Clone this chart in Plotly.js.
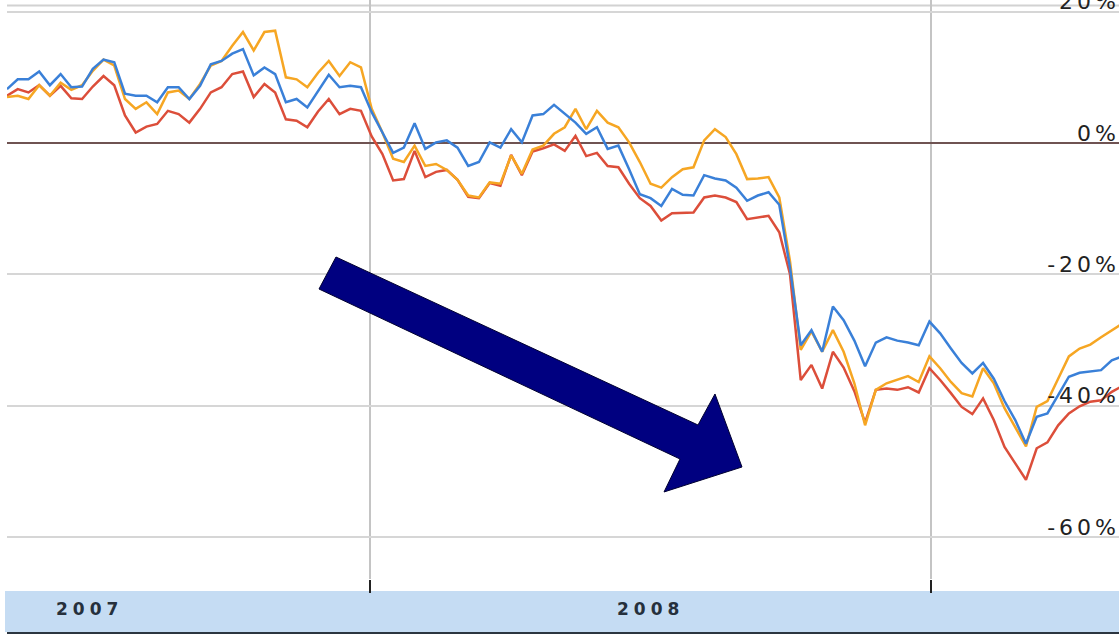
<!DOCTYPE html>
<html>
<head>
<meta charset="utf-8">
<script src="https://cdn.plot.ly/plotly-3.0.1.min.js"></script>
<style>
  html, body { margin: 0; padding: 0; background: #ffffff; }
  #chart { width: 1119px; height: 634px; }
  .ytick text { letter-spacing: 4px; }
  .annotation-text { letter-spacing: 5px; }
</style>
</head>
<body>
<div id="chart"></div>
<script>
// Weekly % change series, first week 2007-05-09
const startDate = '2007-05-09';
const blue = [8.2, 9.7, 9.7, 10.9, 8.8, 10.5, 8.5, 8.6, 11.3, 12.7, 12.3, 7.5, 7.2, 7.2, 6.2, 8.5, 8.5, 6.7, 8.7, 12.0,
  12.5, 13.6, 14.3, 10.3, 11.5, 10.5, 6.2, 6.7, 5.4, 8.0, 10.4, 8.5, 8.7, 8.5, 4.7, 1.6, -1.5, -0.7, 3.0, -0.9,
  0.1, 0.4, -0.7, -3.5, -2.9, 0.1, -0.7, 2.1, 0.1, 4.2, 4.4, 5.8, 4.4, 3.1, 1.4, 2.4, -0.9, -0.4, -4.0, -7.8,
  -8.4, -9.6, -7.0, -7.9, -8.0, -4.9, -5.4, -5.7, -6.8, -8.8, -8.0, -7.5, -9.4, -19.0, -30.8, -28.5, -31.8, -24.9, -27.0, -30.1,
  -34.0, -30.4, -29.6, -30.1, -30.4, -30.8, -27.2, -29.0, -31.3, -33.5, -35.1, -33.5, -35.9, -39.3, -42.2, -45.8, -41.7, -41.2, -38.4, -35.6,
  -35.0, -34.8, -34.6, -33.1, -32.5];
const orange = [7.0, 7.2, 6.7, 8.8, 7.2, 9.2, 8.1, 8.8, 11.0, 12.7, 11.8, 6.7, 5.2, 6.2, 4.4, 7.7, 8.0, 6.7, 9.0, 11.8,
  12.5, 14.8, 16.9, 14.1, 16.9, 17.1, 10.0, 9.7, 8.5, 10.7, 12.5, 10.2, 12.3, 11.5, 5.2, 1.6, -2.4, -2.9, -0.4, -3.5,
  -3.2, -4.1, -5.6, -8.0, -8.3, -6.0, -6.2, -1.9, -4.7, -1.0, -0.4, 1.4, 2.4, 5.2, 2.1, 4.9, 3.1, 2.4, 0.1, -2.9,
  -6.2, -6.8, -5.2, -4.0, -3.7, 0.4, 2.1, 0.9, -1.7, -5.5, -5.4, -5.2, -8.3, -18.0, -31.5, -28.7, -31.8, -28.5, -31.8, -36.6,
  -43.0, -37.6, -36.6, -36.1, -35.5, -36.4, -32.5, -34.3, -36.4, -38.1, -38.6, -34.3, -36.6, -40.4, -43.2, -46.2, -40.2, -39.3, -35.9, -32.5,
  -31.3, -30.7, -29.6, -28.5, -27.5];
const red = [7.2, 8.2, 7.7, 8.8, 7.2, 8.7, 6.8, 6.7, 8.6, 10.2, 8.8, 4.2, 1.6, 2.5, 2.9, 4.9, 4.4, 3.1, 5.2, 7.7,
  8.5, 10.5, 10.9, 7.0, 9.0, 7.7, 3.6, 3.4, 2.4, 4.8, 6.7, 4.4, 5.2, 4.9, 1.0, -1.7, -5.7, -5.5, -1.2, -5.2,
  -4.4, -4.1, -5.6, -8.2, -8.4, -6.1, -6.5, -1.8, -4.9, -1.3, -0.8, -0.2, -1.2, 1.1, -2.0, -1.5, -3.5, -3.7, -6.2, -8.4,
  -9.6, -11.8, -10.7, -10.6, -10.6, -8.3, -8.0, -8.3, -9.0, -11.6, -11.3, -11.1, -13.6, -20.0, -36.1, -33.8, -37.4, -31.8, -34.2, -37.8,
  -42.6, -37.6, -37.4, -37.6, -37.2, -38.0, -34.3, -36.1, -38.1, -40.2, -41.3, -38.9, -42.2, -46.3, -48.8, -51.3, -46.5, -45.6, -43.0, -41.2,
  -40.1, -39.4, -39.2, -37.9, -37.0];
const yTicks = [-60, -40, -20, 0, 20];
const yTickText = ['-60%', '-40%', '-20%', '0%', '20%'];
const yearBounds = ['2008-01-01', '2009-01-01'];
const yearLabels = ['2007', '2008'];
const yearMids = ['2007-07-02', '2008-07-02'];

const WEEK = 7 * 24 * 3600 * 1000;
function tr(y, color) {
  return { type: 'scatter', mode: 'lines', x0: startDate, dx: WEEK, y: y,
    line: { color: color, width: 2.5, shape: 'linear' }, hoverinfo: 'skip', showlegend: false };
}
const data = [tr(red, '#dc4e3a'), tr(orange, '#f6a623'), tr(blue, '#3a80d8')];

// plot area: 7..1119 px wide, 0..579 px tall
const W = 1119, H = 634, L = 7, B = 55;
const pw = W - L, ph = H - B;
function px(xp) { return (xp - L) / pw; }
function py(yp) { return (ph - yp) / ph; }
const arrowPts = [[336,257],[698,425],[715,394],[742,467],[664,492],[680,459],[319,289]];
const arrowPath = 'M' + arrowPts.map(p => px(p[0]).toFixed(5) + ',' + py(p[1]).toFixed(5)).join(' L') + ' Z';

const layout = {
  width: W, height: H,
  margin: { l: L, r: 0, t: 0, b: B, pad: 0 },
  paper_bgcolor: '#ffffff', plot_bgcolor: '#ffffff',
  showlegend: false,
  xaxis: {
    type: 'date', range: ['2007-05-09', '2009-05-03 17:00'],
    tickmode: 'array', tickvals: yearBounds, showticklabels: false,
    showgrid: true, gridcolor: '#c4c4c4', gridwidth: 1.5,
    ticks: 'outside', ticklen: 13, tickwidth: 2, tickcolor: '#222222',
    zeroline: false, showline: false, fixedrange: true
  },
  yaxis: {
    range: [-66.41, 21.78], side: 'right',
    tickmode: 'array', tickvals: yTicks, ticktext: yTickText,
    ticklabelposition: 'inside', ticklabelshift: -10, ticklabelstandoff: -4,
    ticklabeloverflow: 'allow',
    tickfont: { family: 'DejaVu Sans', size: 22, color: '#222222' },
    showgrid: true, gridcolor: '#d6d6d6', gridwidth: 2,
    zeroline: true, zerolinecolor: '#6f5352', zerolinewidth: 2.5,
    showline: false, ticks: '', fixedrange: true
  },
  shapes: [
    { type: 'rect', xref: 'paper', yref: 'paper', x0: px(5), x1: 1, y0: py(632), y1: py(591),
      fillcolor: '#c5dcf3', line: { width: 0 }, layer: 'below' },
    { type: 'line', xref: 'paper', yref: 'paper', x0: 0, x1: 1, y0: py(633), y1: py(633),
      line: { color: '#2b3540', width: 2 } },
    { type: 'line', xref: 'paper', yref: 'paper', x0: 0, x1: 1, y0: py(5.5), y1: py(5.5),
      line: { color: '#d2d2d2', width: 2 }, layer: 'below' },
    { type: 'path', xref: 'paper', yref: 'paper', path: arrowPath,
      fillcolor: '#000080', line: { color: '#000030', width: 1 } }
  ],
  annotations: yearLabels.map((t, i) => ({
    x: yearMids[i], xref: 'x', y: py(609), yref: 'paper', text: t, showarrow: false,
    xanchor: 'center', yanchor: 'middle',
    font: { family: 'DejaVu Sans', size: 17, weight: 'bold', color: '#26303c' }
  }))
};

Plotly.newPlot('chart', data, layout, { staticPlot: true, displayModeBar: false });
</script>
</body>
</html>
